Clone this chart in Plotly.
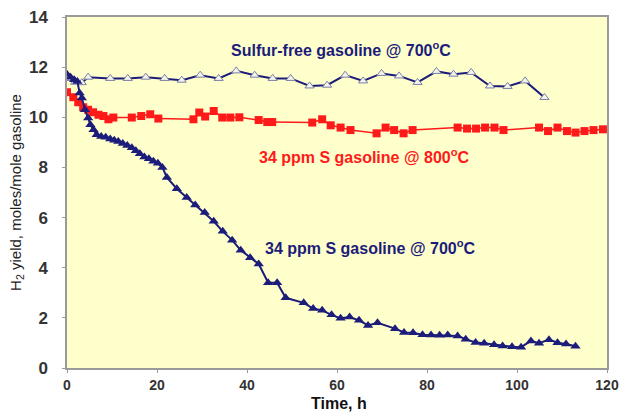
import plotly.graph_objects as go

# Sulfur-free gasoline @ 700 C
sf_t = [0, 1.8, 3.3, 4.7, 9.6, 13.5, 17.5, 21.7, 25.5, 29.6, 33.7, 37.6, 41.7, 45.7,
        49.7, 53.9, 57.8, 61.8, 65.8, 69.9, 73.8, 77.9, 82.1, 85.9, 89.8, 94.0, 97.9,
        101.8, 106.1]
sf_y = [11.55, 11.4, 11.38, 11.6, 11.55, 11.55, 11.6, 11.55, 11.48, 11.68, 11.55, 11.85,
        11.68, 11.55, 11.55, 11.25, 11.28, 11.68, 11.45, 11.75, 11.65, 11.39, 11.83, 11.72,
        11.79, 11.25, 11.23, 11.45, 10.79]

# 34 ppm S gasoline @ 800 C
r_t = [0, 1.4, 2.5, 3.6, 4.7, 5.8, 7.0, 8.1, 9.2, 10.3, 14.4, 16.5, 18.5, 20.3, 28.1,
       29.4, 30.7, 32.6, 34.5, 36.3, 38.3, 42.6, 44.5, 45.6, 54.5, 56.7, 58.6, 60.8, 63.0,
       68.8, 70.8, 72.7, 74.8, 76.8, 86.8, 88.9, 90.9, 92.9, 95.0, 97.0, 104.9, 106.9,
       109.0, 111.1, 113.0, 115.0, 117.0, 119.1]
r_y = [11.0, 10.8, 10.6, 10.4, 10.3, 10.2, 10.1, 10.05, 9.92, 9.99, 9.99, 10.05, 10.12,
       9.95, 9.92, 10.19, 10.03, 10.25, 9.99, 9.99, 10.0, 9.89, 9.81, 9.81, 9.79, 9.92,
       9.68, 9.59, 9.49, 9.36, 9.59, 9.49, 9.36, 9.49, 9.59, 9.55, 9.55, 9.59, 9.59, 9.49,
       9.59, 9.45, 9.59, 9.45, 9.39, 9.45, 9.49, 9.52]

# 34 ppm S gasoline @ 700 C
b_t = [0, 0.8, 1.6, 2.3, 2.8, 3.3, 4.0, 4.7, 5.2, 5.9, 6.6, 7.6, 8.6, 9.6, 10.5, 11.4,
       12.4, 13.4, 14.4, 15.3, 16.2, 17.2, 18.2, 19.2, 20.2, 21.2, 22.2, 24.4, 26.6, 28.5,
       30.6, 32.6, 34.6, 36.7, 38.6, 40.7, 42.6, 44.7, 46.7, 48.6, 52.6, 54.7, 56.7, 58.8,
       60.8, 62.8, 64.9, 66.9, 69.0, 72.9, 74.9, 76.9, 79.0, 80.9, 82.8, 84.6, 86.8, 88.6,
       90.8, 92.7, 94.9, 96.8, 98.9, 100.9, 103.1, 104.9, 107.1, 109.0, 110.9, 113.0]
b_y = [11.72, 11.6, 11.5, 11.43, 10.97, 10.77, 10.3, 9.97, 9.7, 9.5, 9.3, 9.23, 9.2, 9.13,
       9.08, 9.03, 8.95, 8.87, 8.78, 8.67, 8.55, 8.42, 8.35, 8.25, 8.17, 8.0, 7.6, 7.15,
       6.8, 6.5, 6.2, 5.85, 5.45, 5.1, 4.7, 4.4, 4.15, 3.4, 3.4, 2.8, 2.6, 2.37, 2.3, 2.12,
       1.98, 2.03, 1.9, 1.7, 1.8, 1.57, 1.42, 1.41, 1.33, 1.32, 1.31, 1.32, 1.28, 1.15,
       1.02, 0.99, 0.93, 0.88, 0.85, 0.83, 1.08, 0.99, 1.13, 1.01, 0.96, 0.87]

x_ticks = [0, 20, 40, 60, 80, 100, 120]
y_ticks = [0, 2, 4, 6, 8, 10, 12, 14]

NAVY = "#1c1c7a"
RED = "#ff1a1a"
FAM = "Liberation Sans, Arial"

fig = go.Figure()
fig.add_trace(go.Scatter(x=sf_t, y=sf_y, mode="lines+markers",
                         line=dict(color=NAVY, width=2),
                         marker=dict(symbol="triangle-up", size=8, color="#f4f4e8",
                                     line=dict(color="#7a7fa8", width=1)),
                         showlegend=False))
fig.add_trace(go.Scatter(x=r_t, y=r_y, mode="lines+markers",
                         line=dict(color=RED, width=1.5),
                         marker=dict(symbol="square", size=8, color=RED),
                         showlegend=False))
fig.add_trace(go.Scatter(x=b_t, y=b_y, mode="lines+markers",
                         line=dict(color=NAVY, width=2),
                         marker=dict(symbol="triangle-up", size=9, color=NAVY),
                         showlegend=False))

ann_font = dict(family=FAM, size=16, weight="bold")
fig.add_annotation(x=60.8, y=12.72, text="Sulfur-free gasoline @ 700<sup>o</sup>C",
                   showarrow=False, font=dict(color=NAVY, **ann_font))
fig.add_annotation(x=66.2, y=8.44, text="34 ppm S gasoline @ 800<sup>o</sup>C",
                   showarrow=False, font=dict(color=RED, **ann_font))
fig.add_annotation(x=67.5, y=4.84, text="34 ppm S gasoline @ 700<sup>o</sup>C",
                   showarrow=False, font=dict(color=NAVY, **ann_font))
# x-axis title placed as paper annotation for precise vertical position
fig.add_annotation(x=60.5, xref="x", y=-0.129, yref="paper", yanchor="bottom",
                   text="Time, h", showarrow=False, borderpad=0,
                   font=dict(family=FAM, size=16, color="#111111", weight="bold"))

axis_common = dict(showgrid=False, zeroline=False, showline=True, linecolor="#9a9a9a",
                   linewidth=1.5, mirror=True, ticks="outside", ticklen=3,
                   tickcolor="#9a9a9a", automargin=False)
fig.update_xaxes(range=[0, 120], tickvals=x_ticks, ticklabelstandoff=0,
                 tickfont=dict(family=FAM, size=14, color="#333333", weight="bold"),
                 **axis_common)
fig.update_yaxes(range=[0, 14], tickvals=y_ticks, ticklabelstandoff=11,
                 tickfont=dict(family=FAM, size=17, color="#333333", weight="bold"),
                 **axis_common,
                 title=dict(text="H<sub>2</sub> yield, moles/mole gasoline", standoff=4,
                            font=dict(family=FAM, size=15, color="#222222")))
fig.update_layout(width=620, height=413,
                  margin=dict(l=67, r=13, t=17, b=45),
                  plot_bgcolor="#ffffcc", paper_bgcolor="white")
fig.write_html("out.html")
